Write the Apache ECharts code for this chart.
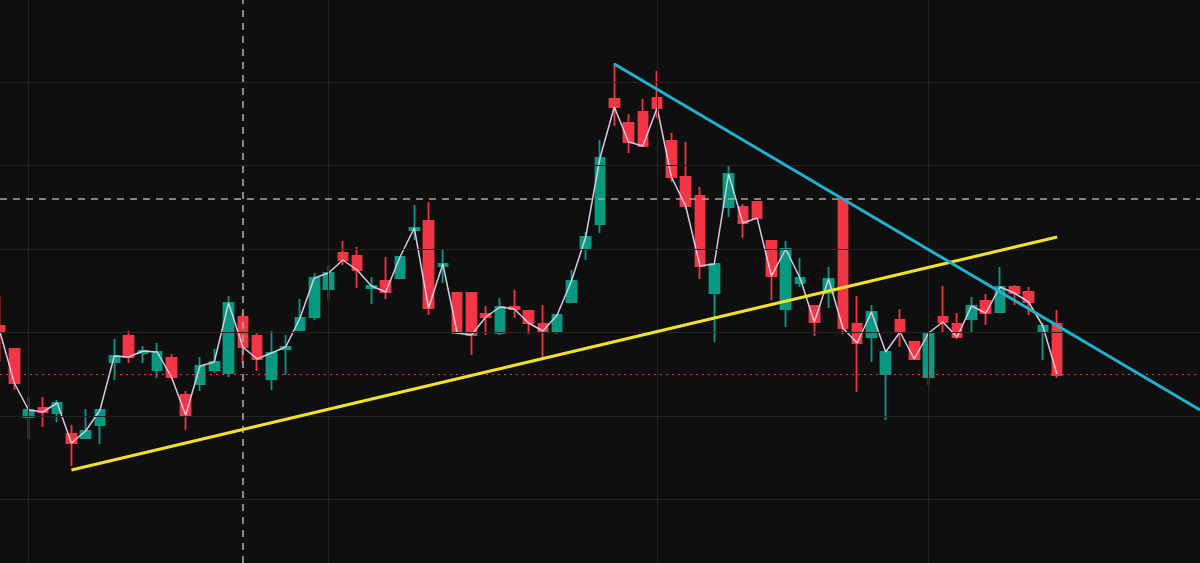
<!DOCTYPE html>
<html>
<head>
<meta charset="utf-8">
<script src="https://cdn.jsdelivr.net/npm/echarts@6/dist/echarts.min.js"></script>
<style>html,body{margin:0;padding:0;background:#0f0f0f;}#main{width:1200px;height:563px;}</style>
</head>
<body>
<div id="main"></div>
<script>
// K线数据 [open, close, low, high]
var candles = [
  [23.7,23.1,20.1,26.7],[21.4,18.0,17.3,21.4],[14.6,15.3,12.4,16.6],[15.5,15.1,13.6,16.6],
  [15.0,16.0,14.1,16.3],[12.9,12.0,9.7,13.8],[12.5,13.2,12.5,15.4],[13.8,15.3,11.9,15.3],
  [20.1,20.7,18.3,22.4],[22.7,20.6,20.0,23.2],[21.0,21.2,20.0,21.7],[19.3,21.1,18.5,22.0],
  [20.5,18.6,18.4,20.9],[16.8,14.8,13.3,17.2],[17.9,19.7,17.2,20.6],[19.3,20.1,19.0,21.4],
  [19.0,26.0,18.6,26.7],[24.6,21.6,20.0,25.0],[22.7,20.4,19.2,23.1],[18.4,21.0,17.3,23.2],
  [21.4,21.6,18.8,22.8],[23.3,24.5,23.3,26.4],[24.6,28.5,24.3,29.0],[27.4,29.0,26.3,29.7],
  [31.0,30.3,29.8,32.2],[30.7,29.3,27.5,31.6],[27.5,27.7,25.9,28.6],[28.2,27.1,26.4,30.6],
  [28.5,30.6,28.5,30.6],[33.3,33.5,32.3,35.8],[34.2,25.5,24.8,36.1],[29.7,29.9,28.0,31.4],
  [27.0,23.0,23.0,27.0],[27.0,22.8,20.8,27.0],[24.9,24.6,22.8,25.7],[23.0,25.6,22.8,26.5],
  [25.6,25.4,24.5,27.3],[25.2,24.0,22.9,25.2],[23.9,23.2,20.3,25.8],[23.2,24.8,22.9,24.8],
  [26.1,28.2,26.0,29.3],[31.4,32.6,30.3,33.1],[33.9,40.5,33.0,42.3],[46.4,45.6,43.7,50.0],
  [44.0,42.1,41.0,44.9],[45.1,41.7,41.6,46.4],[46.5,45.5,44.5,49.2],[42.2,38.6,38.1,43.0],
  [38.6,35.7,35.4,42.1],[36.7,29.7,28.4,37.6],[27.0,29.9,22.1,29.9],[35.6,38.9,34.6,39.7],
  [35.6,34.0,32.5,35.9],[36.1,34.5,34.5,36.1],[32.2,28.7,26.3,32.2],[25.4,31.4,23.6,32.2],
  [28.0,28.5,27.6,30.5],[25.7,24.1,22.7,25.7],[27.0,28.4,25.5,29.6],[36.3,23.5,22.9,36.5],
  [23.9,22.0,17.1,26.7],[22.6,25.1,20.1,25.8],[18.9,21.1,14.3,21.3],[24.3,23.1,21.6,25.4],
  [22.1,20.4,20.4,22.1],[18.6,23.0,17.8,23.1],[24.6,24.1,23.1,27.7],[23.9,22.6,22.4,25.0],
  [24.4,25.7,23.0,26.6],[26.2,25.0,23.8,26.9],[25.1,27.6,25.1,29.6],[27.6,27.0,25.8,27.8],
  [27.1,26.1,24.8,27.6],[23.2,23.7,20.3,24.0],[23.9,18.8,18.5,25.3]
];
var totalSlots = 85;
var categories = [];
for (var i = 0; i < totalSlots; i++) categories.push(String(i));
var closes = candles.map(function (c) { return c[1]; });

// 网格线位置
var gridPrices = [48.1, 39.8, 31.4, 23.1, 14.7, 6.4];
var gridCats = ['2', '23', '46', '65'];
// 水平/垂直参考线
var dashPrice = 36.4, dashCat = '17', dotPrice = 18.9;
// 趋势线 [category, price]
var yellowLine = [['5', 9.3], ['74', 32.6]];
var cyanLine = [['43', 49.9], ['84', 15.3]];

var chart = echarts.init(document.getElementById('main'));
var gridStyle = { color: '#242424', width: 1, type: 'solid' };
var marks = [];
gridPrices.forEach(function (p) { marks.push({ yAxis: p, lineStyle: gridStyle }); });
gridCats.forEach(function (c) { marks.push({ xAxis: c, lineStyle: gridStyle }); });
marks.push({ yAxis: dashPrice, lineStyle: { color: '#a8a8a8', width: 1.6, type: [7, 6] } });
marks.push({ xAxis: dashCat, lineStyle: { color: '#a8a8a8', width: 1.6, type: [7, 6] } });
marks.push({ yAxis: dotPrice, lineStyle: { color: '#f23645', width: 1.2, type: [2, 4] } });
marks.push([{ coord: yellowLine[0], lineStyle: { color: '#f2e12a', width: 3, type: 'solid' } }, { coord: yellowLine[1] }]);
marks.push([{ coord: cyanLine[0], lineStyle: { color: '#22b1cf', width: 3, type: 'solid' } }, { coord: cyanLine[1] }]);

chart.setOption({
  backgroundColor: '#0f0f0f',
  animation: false,
  grid: { left: 0, right: 0, top: 0, bottom: 0 },
  xAxis: {
    type: 'category', data: categories, boundaryGap: false,
    axisLine: { show: false }, axisTick: { show: false }, axisLabel: { show: false }, splitLine: { show: false }
  },
  yAxis: {
    type: 'value', min: 0, max: 56.3,
    axisLine: { show: false }, axisTick: { show: false }, axisLabel: { show: false }, splitLine: { show: false }
  },
  series: [{
    type: 'line', data: [], silent: true, z: 1,
    markLine: { silent: true, symbol: 'none', label: { show: false }, data: marks.slice(0, 13) }
  }, {
    type: 'candlestick', data: candles, barWidth: 10, z: 3,
    itemStyle: { color: '#089981', color0: '#f23645', borderColor: '#089981', borderColor0: '#f23645', borderWidth: 1.8 }
  }, {
    type: 'line', data: closes, symbol: 'none', z: 4,
    lineStyle: { color: '#d9c9e3', width: 1.5 }
  }, {
    type: 'line', data: [], z: 5,
    markLine: { silent: true, symbol: 'none', label: { show: false }, data: marks.slice(13) }
  }]
});
</script>
</body>
</html>
